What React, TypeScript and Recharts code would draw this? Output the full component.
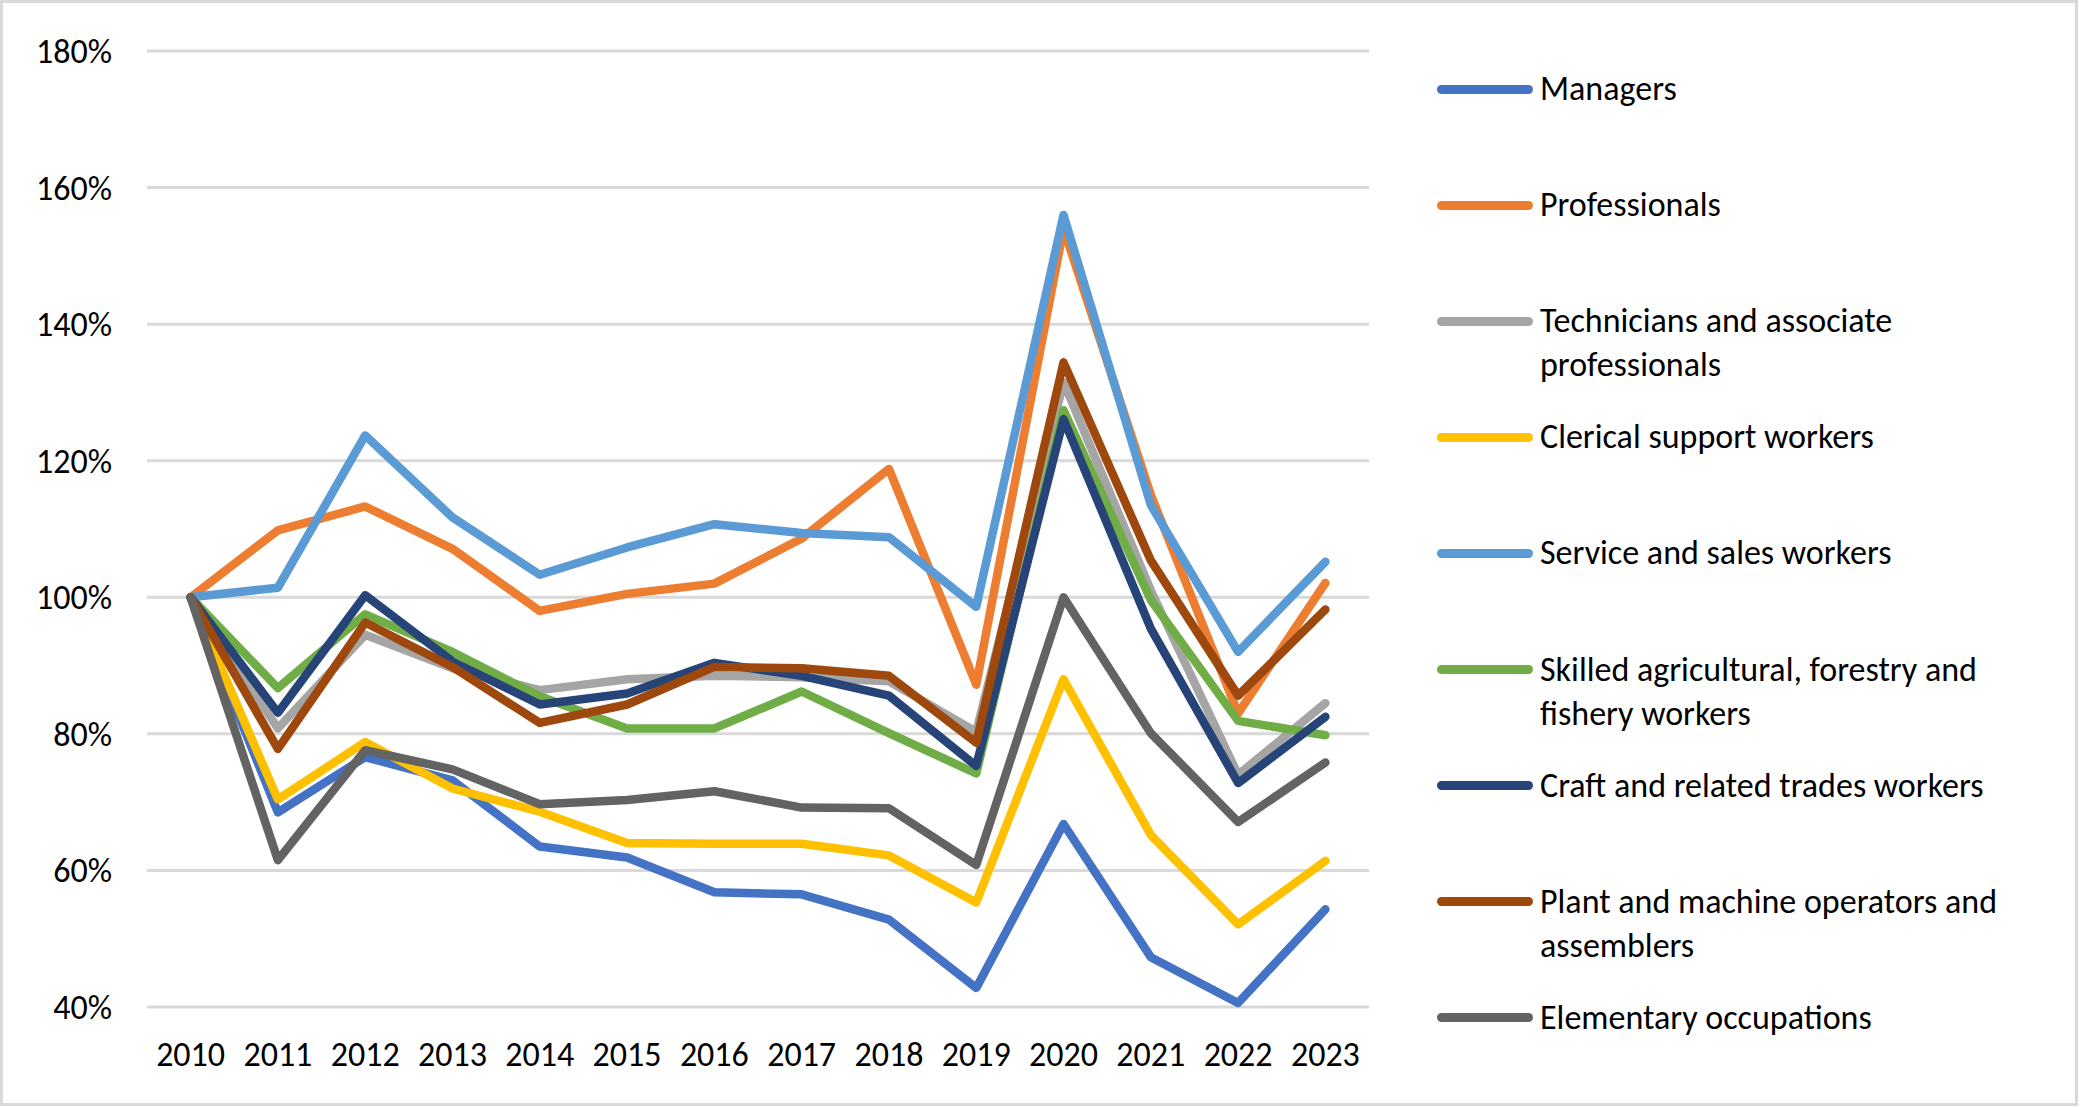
import React from "react";
import { LineChart, Line, XAxis, YAxis, CartesianGrid, Legend } from "recharts";

// ── Data (index: share relative to 2010, in %) ───────────────────────────────

const YEARS = ["2010", "2011", "2012", "2013", "2014", "2015", "2016", "2017", "2018", "2019", "2020", "2021", "2022", "2023"];

const MANAGERS = [100, 68.5, 76.6, 73.2, 63.5, 61.9, 56.8, 56.5, 52.8, 42.8, 66.8, 47.3, 40.6, 54.3];
const PROFESSIONALS = [100, 109.8, 113.3, 107.1, 98.0, 100.5, 102.0, 108.6, 118.8, 87.2, 154.0, 115.0, 83.0, 102.1];
const TECHNICIANS = [100, 80.8, 94.5, 89.6, 86.4, 88.0, 88.5, 88.3, 87.7, 80.3, 131.5, 101.0, 74.0, 84.5];
const CLERICAL = [100, 70.4, 78.8, 72.0, 68.6, 64.0, 63.9, 63.9, 62.2, 55.3, 88.0, 65.2, 52.1, 61.4];
const SERVICE = [100, 101.4, 123.7, 111.7, 103.3, 107.3, 110.7, 109.4, 108.8, 98.6, 156.0, 113.5, 92.0, 105.2];
const SKILLED = [100, 86.7, 97.5, 92.0, 85.5, 80.8, 80.8, 86.2, 80.1, 74.2, 127.4, 99.6, 81.9, 79.8];
const CRAFT = [100, 83.1, 100.3, 90.6, 84.3, 85.9, 90.4, 88.5, 85.6, 75.3, 126.1, 95.4, 72.8, 82.5];
const PLANT = [100, 77.8, 96.3, 89.8, 81.6, 84.3, 89.8, 89.6, 88.5, 78.7, 134.4, 105.4, 85.6, 98.2];
const ELEMENTARY = [100, 61.5, 77.6, 74.8, 69.7, 70.3, 71.6, 69.2, 69.1, 60.8, 100.0, 80.1, 67.1, 75.8];

const Y_TICKS = [40, 60, 80, 100, 120, 140, 160, 180];

const SERIES = [
  { key: "managers", name: "Managers", color: "#4472C4", values: MANAGERS },
  { key: "professionals", name: "Professionals", color: "#ED7D31", values: PROFESSIONALS },
  { key: "technicians", name: "Technicians and associate professionals", color: "#A5A5A5", values: TECHNICIANS },
  { key: "clerical", name: "Clerical support workers", color: "#FFC000", values: CLERICAL },
  { key: "service", name: "Service and sales workers", color: "#5B9BD5", values: SERVICE },
  { key: "skilled", name: "Skilled agricultural, forestry and fishery workers", color: "#70AD47", values: SKILLED },
  { key: "craft", name: "Craft and related trades workers", color: "#264478", values: CRAFT },
  { key: "plant", name: "Plant and machine operators and assemblers", color: "#9E480E", values: PLANT },
  { key: "elementary", name: "Elementary occupations", color: "#636363", values: ELEMENTARY },
];

// where the legend wraps long names
const LEGEND_LINES: Record<string, string[]> = {
  "Technicians and associate professionals": ["Technicians and associate", "professionals"],
  "Skilled agricultural, forestry and fishery workers": ["Skilled agricultural, forestry and", "fishery workers"],
  "Plant and machine operators and assemblers": ["Plant and machine operators and", "assemblers"],
};

const data = YEARS.map((year, i) => {
  const row: Record<string, string | number> = { year };
  SERIES.forEach((s) => {
    row[s.key] = s.values[i];
  });
  return row;
});

// ── Styling ──────────────────────────────────────────────────────────────────

const FONT = "Carlito, Calibri, Lato, sans-serif";
const FONT_SIZE = 34;
const TICK = { fontSize: FONT_SIZE, fill: "#000", fontFamily: FONT };

// ── Legend (kept in series order, Excel style) ───────────────────────────────

function SideLegend() {
  return (
    <div style={{ position: "relative", width: 640, height: 1107, fontFamily: FONT, fontSize: FONT_SIZE }}>
      {SERIES.map((s, i) => {
        const lines = LEGEND_LINES[s.name] ?? [s.name];
        const top = 89 + i * 116.1;
        return (
          <div key={s.key} style={{ position: "absolute", left: 0, top: top - 22 }}>
            <div
              style={{
                position: "absolute",
                left: 0,
                top: 17.5,
                width: 96,
                height: 9,
                borderRadius: 5,
                background: s.color,
              }}
            />
            <div style={{ position: "absolute", left: 103, top: 0, lineHeight: "44px", whiteSpace: "nowrap", color: "#000" }}>
              {lines.map((l) => (
                <div key={l}>{l}</div>
              ))}
            </div>
          </div>
        );
      })}
    </div>
  );
}

// ── Main ─────────────────────────────────────────────────────────────────────

export default function App() {
  return (
    <div style={{ position: "absolute", left: 0, top: 0, width: 2081, height: 1107, background: "#fff" }}>
      <LineChart width={2081} height={1107} data={data} margin={{ top: 51, right: 712, left: 0, bottom: 0 }}>
        <CartesianGrid vertical={false} stroke="#d9d9d9" strokeWidth={3} />
        <XAxis
          dataKey="year"
          height={100}
          axisLine={false}
          tickLine={false}
          tickSize={0}
          tickMargin={35}
          tick={TICK}
          padding={{ left: 43.6, right: 43.6 }}
          interval={0}
        />
        <YAxis
          width={147}
          domain={[40, 180]}
          ticks={Y_TICKS}
          tickFormatter={(v: number) => `${v}%`}
          axisLine={false}
          tickLine={false}
          tickSize={0}
          tickMargin={35}
          tick={TICK}
        />
        <Legend
          layout="vertical"
          align="center"
          verticalAlign="middle"
          content={<SideLegend />}
          wrapperStyle={{ left: 1437, top: 0, width: 640, height: 1107 }}
        />
        {SERIES.map((s) => (
          <Line
            key={s.key}
            type="linear"
            dataKey={s.key}
            name={s.name}
            stroke={s.color}
            strokeWidth={8.5}
            strokeLinejoin="round"
            strokeLinecap="round"
            dot={false}
            activeDot={false}
            isAnimationActive={false}
          />
        ))}
      </LineChart>
      <div
        style={{
          position: "absolute",
          left: 0,
          top: 0,
          width: 2078,
          height: 1106,
          border: "3px solid #d9d9d9",
          boxSizing: "border-box",
          pointerEvents: "none",
        }}
      />
    </div>
  );
}
